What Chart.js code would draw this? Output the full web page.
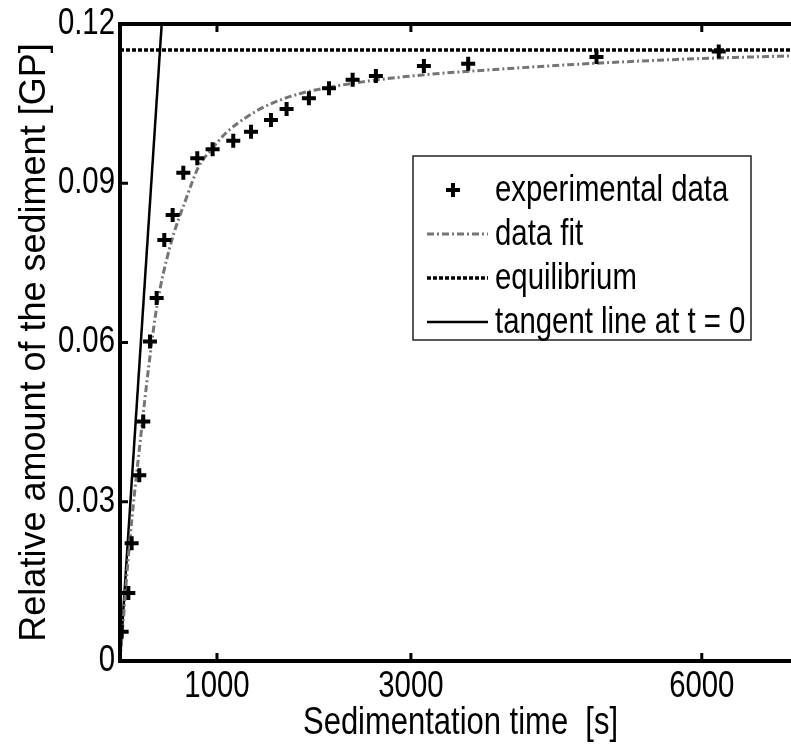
<!DOCTYPE html>
<html>
<head>
<meta charset="utf-8">
<script src="https://cdn.jsdelivr.net/npm/chart.js@4.4.1/dist/chart.umd.min.js"></script>
<style>
  html, body { margin: 0; padding: 0; background: #fff; }
  #chart { display: block; }
</style>
</head>
<body>
<canvas id="chart" width="791" height="746"></canvas>
<script>
// --- Datos ---
const expTime  = [17, 86, 120, 199, 240, 309, 378, 457, 543, 653, 797, 955, 1168, 1351, 1557, 1718, 1948, 2155, 2399, 2639, 3134, 3591, 4914, 6175];
const expValue = [0.0055, 0.0128, 0.0222, 0.035, 0.0451, 0.0602, 0.0684, 0.0793, 0.084, 0.092, 0.0947, 0.0964, 0.098, 0.0997, 0.1019, 0.104, 0.106, 0.1079, 0.1095, 0.1102, 0.1121, 0.1125, 0.1138, 0.1148];

const fitTime  = [0, 100, 200, 300, 380, 515, 690, 810, 930, 1100, 1300, 1510, 1860, 2200, 2500, 3000, 4000, 5000, 6000, 6920];
const fitValue = [0, 0.0225, 0.040, 0.056, 0.0668, 0.078, 0.0875, 0.0931, 0.0961, 0.0996, 0.1024, 0.1046, 0.1069, 0.1082, 0.1091, 0.1102, 0.1116, 0.1127, 0.1135, 0.114];

const equilibriumTime  = [0, 6920];
const equilibriumValue = [0.1151, 0.1151];

const tangentTime  = [0, 430];
const tangentValue = [0, 0.12];

const xTicks = [1000, 3000, 6000];
const xTickLabels = ['1000', '3000', '6000'];
const yTicks = [0, 0.03, 0.06, 0.09, 0.12];
const yTickLabels = ['0', '0.03', '0.06', '0.09', '0.12'];

const seriesLabels = ['experimental data', 'data fit', 'equilibrium', 'tangent line at t = 0'];
const xTitle = 'Sedimentation time  [s]';
const yTitle = 'Relative amount of the sediment [GP]';

const toPoints = (xs, ys) => xs.map((x, i) => ({ x: x, y: ys[i] }));

const FONT = "'Liberation Sans', Arial, sans-serif";
const TEXT_SIZE = 36;
const SQUEEZE = 0.815; // la figura original tiene el texto horizontal estrecho

Chart.defaults.font.family = FONT;
Chart.defaults.color = '#000';

// texto horizontal comprimido
function drawNarrowText(ctx, text, x, y, align, size) {
    ctx.save();
    ctx.translate(x, y);
    ctx.scale(SQUEEZE, 1);
    ctx.font = (size || TEXT_SIZE) + 'px ' + FONT;
    ctx.fillStyle = '#000';
    ctx.textAlign = align;
    ctx.textBaseline = 'middle';
    ctx.fillText(text, 0, 0);
    ctx.restore();
}

// Marco con ticks hacia dentro (estilo MATLAB) + etiquetas de los ejes
const framePlugin = {
    id: 'frame',
    afterDatasetsDraw(chart) {
        const { ctx, chartArea: a, scales: { x, y } } = chart;
        ctx.save();
        ctx.strokeStyle = '#000';
        ctx.lineWidth = 4;
        ctx.beginPath();
        ctx.moveTo(a.right + 2, a.top);
        ctx.lineTo(a.left, a.top);
        ctx.lineTo(a.left, a.bottom);
        ctx.lineTo(a.right + 2, a.bottom);
        ctx.stroke();

        ctx.lineWidth = 3;
        ctx.beginPath();
        x.ticks.forEach(t => {
            const px = x.getPixelForValue(t.value);
            ctx.moveTo(px, a.bottom); ctx.lineTo(px, a.bottom - 8);
            ctx.moveTo(px, a.top); ctx.lineTo(px, a.top + 8);
        });
        y.ticks.forEach(t => {
            const py = y.getPixelForValue(t.value);
            ctx.moveTo(a.left, py); ctx.lineTo(a.left + 8, py);
        });
        ctx.stroke();
        ctx.restore();

        x.ticks.forEach((t, i) => {
            drawNarrowText(ctx, xTickLabels[i], x.getPixelForValue(t.value), a.bottom + 26, 'center');
        });
        y.ticks.forEach((t, i) => {
            drawNarrowText(ctx, yTickLabels[i], a.left - 5, y.getPixelForValue(t.value), 'right');
        });
        drawNarrowText(ctx, xTitle, (x.left + x.right) / 2 + 5, a.bottom + 63, 'center', 38);
    }
};

// Leyenda dentro del area (caja con borde)
const boxLegendPlugin = {
    id: 'boxLegend',
    afterDraw(chart) {
        const { ctx } = chart;
        const box = { left: 413, top: 156, width: 338, height: 184 };
        ctx.save();
        ctx.fillStyle = '#fff';
        ctx.fillRect(box.left, box.top, box.width, box.height);
        ctx.strokeStyle = '#222';
        ctx.lineWidth = 1.5;
        ctx.strokeRect(box.left, box.top, box.width, box.height);

        chart.data.datasets.forEach((ds, i) => {
            const rowY = box.top + 34 + i * 44;
            ctx.strokeStyle = ds.borderColor;
            ctx.lineWidth = ds.borderWidth;
            if (ds.showLine) {
                ctx.setLineDash(ds.borderDash || []);
                ctx.beginPath();
                ctx.moveTo(box.left + 14, rowY);
                ctx.lineTo(box.left + 75, rowY);
                ctx.stroke();
                ctx.setLineDash([]);
            } else {
                const cx = box.left + 40, r = ds.pointRadius;
                ctx.beginPath();
                ctx.moveTo(cx - r, rowY); ctx.lineTo(cx + r, rowY);
                ctx.moveTo(cx, rowY - r); ctx.lineTo(cx, rowY + r);
                ctx.stroke();
            }
            drawNarrowText(ctx, ds.label, box.left + 82, rowY + 1, 'left');
        });
        ctx.restore();
    }
};

new Chart(document.getElementById('chart'), {
    type: 'scatter',
    data: {
        datasets: [
            {
                label: seriesLabels[0],
                data: toPoints(expTime, expValue),
                pointStyle: 'cross',
                pointRadius: 7,
                pointBorderWidth: 4,
                borderWidth: 4,
                borderColor: '#000',
                backgroundColor: '#000',
                showLine: false,
                order: 0
            },
            {
                label: seriesLabels[1],
                data: toPoints(fitTime, fitValue),
                showLine: true,
                borderColor: '#757575',
                borderWidth: 3,
                borderDash: [7, 3, 2, 3],
                pointRadius: 0,
                cubicInterpolationMode: 'monotone',
                order: 1
            },
            {
                label: seriesLabels[2],
                data: toPoints(equilibriumTime, equilibriumValue),
                showLine: true,
                borderColor: '#000',
                borderWidth: 3.5,
                borderDash: [4, 2],
                pointRadius: 0,
                order: 2
            },
            {
                label: seriesLabels[3],
                data: toPoints(tangentTime, tangentValue),
                showLine: true,
                borderColor: '#000',
                borderWidth: 2.5,
                pointRadius: 0,
                order: 3
            }
        ]
    },
    options: {
        responsive: false,
        animation: false,
        devicePixelRatio: 1,
        layout: { autoPadding: false, padding: { top: 24, right: 0, left: 0, bottom: 0 } },
        plugins: {
            legend: { display: false },
            tooltip: { enabled: false }
        },
        scales: {
            x: {
                type: 'linear',
                min: 0, max: 6920,
                grid: { display: false, drawTicks: false },
                border: { display: false },
                afterBuildTicks: (scale) => { scale.ticks = xTicks.map(v => ({ value: v })); },
                afterFit: (scale) => {
                    scale.height = 85;
                    scale.paddingLeft = 0;
                    scale.paddingRight = 0;
                },
                ticks: { display: false },
                title: { display: false }
            },
            y: {
                min: 0, max: 0.12,
                grid: { display: false, drawTicks: false },
                border: { display: false },
                afterBuildTicks: (scale) => { scale.ticks = yTicks.map(v => ({ value: v })); },
                afterFit: (scale) => {
                    scale.width = 120;
                    scale.paddingTop = 0;
                    scale.paddingBottom = 0;
                },
                ticks: { display: false },
                title: {
                    display: true,
                    text: yTitle,
                    font: { size: 36 },
                    color: '#000',
                    padding: { top: 13, bottom: 0 }
                }
            }
        }
    },
    plugins: [framePlugin, boxLegendPlugin]
});
</script>
</body>
</html>
